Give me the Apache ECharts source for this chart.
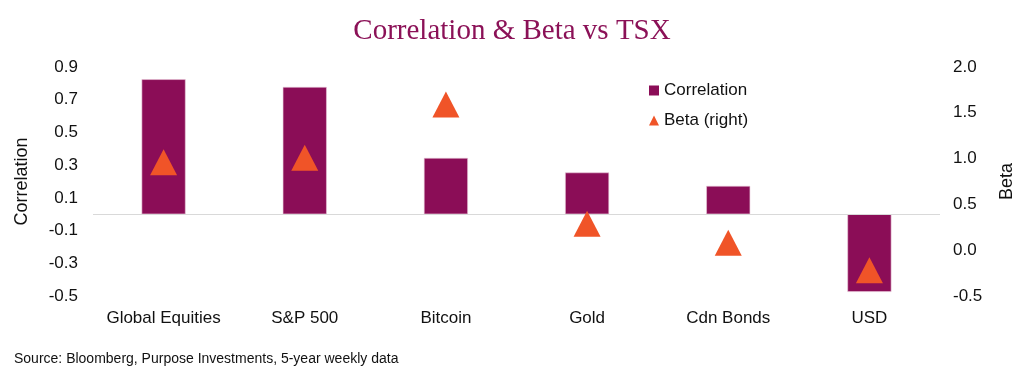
<!DOCTYPE html>
<html>
<head>
<meta charset="utf-8">
<script src="https://cdn.jsdelivr.net/npm/echarts@6/dist/echarts.min.js"></script>
<style>html,body{margin:0;padding:0;background:#fff}#c{width:1024px;height:384px}</style>
</head>
<body>
<div id="c"></div>
<script>
const categories = ['Global Equities', 'S&P 500', 'Bitcoin', 'Gold', 'Cdn Bonds', 'USD'];
const correlation = [0.825, 0.778, 0.344, 0.255, 0.173, -0.475];
const beta = [0.96, 1.01, 1.59, 0.29, 0.08, -0.22];
const leftTicks = [-0.5, -0.3, -0.1, 0.1, 0.3, 0.5, 0.7, 0.9];
const rightTicks = [-0.5, 0.0, 0.5, 1.0, 1.5, 2.0];

const chart = echarts.init(document.getElementById('c'), null, {renderer: 'canvas'});
const font = 'Liberation Sans, Arial, sans-serif';
chart.setOption({
  animation: false,
  title: [{
    text: 'Correlation & Beta vs TSX',
    left: 'center', top: 12,
    textStyle: {fontFamily: 'Liberation Serif, serif', fontWeight: 'normal', fontSize: 29, color: '#8B1157'}
  }, {
    text: 'Source: Bloomberg, Purpose Investments, 5-year weekly data',
    left: 9, top: 347,
    textStyle: {fontFamily: font, fontWeight: 'normal', fontSize: 14, color: '#111'}
  }],
  legend: {
    orient: 'vertical', left: 644, top: 77,
    itemWidth: 10, itemHeight: 10, itemGap: 13,
    itemStyle: {borderWidth: 0},
    textStyle: {fontFamily: font, fontSize: 17, color: '#111'},
    data: [{name: 'Correlation', icon: 'rect'}, {name: 'Beta (right)', icon: 'triangle'}]
  },
  grid: {left: 93, right: 82, top: 67, bottom: 88},
  xAxis: {
    type: 'category', data: categories,
    axisLine: {show: false}, axisTick: {show: false},
    axisLabel: {interval: 0, fontFamily: font, fontSize: 17, color: '#111', margin: 14}
  },
  yAxis: [{
    type: 'value', min: -0.5, max: 0.9,
    name: 'Correlation', nameLocation: 'middle', nameGap: 62, nameRotate: 90,
    nameTextStyle: {fontFamily: font, fontSize: 18, color: '#111'},
    axisLine: {show: false}, axisTick: {show: false}, splitLine: {show: false},
    axisLabel: {customValues: leftTicks, formatter: v => v.toFixed(1), fontFamily: font, fontSize: 17, color: '#111', margin: 15}
  }, {
    type: 'value', min: -0.5, max: 2.0, interval: 0.5,
    name: 'Beta', nameLocation: 'middle', nameGap: 58, nameRotate: 90,
    nameTextStyle: {fontFamily: font, fontSize: 18, color: '#111'},
    axisLine: {show: false}, axisTick: {show: false}, splitLine: {show: false},
    axisLabel: {customValues: rightTicks, formatter: v => v.toFixed(1), fontFamily: font, fontSize: 17, color: '#111', margin: 13}
  }],
  series: [{
    name: 'Correlation', type: 'bar', yAxisIndex: 0, data: correlation,
    barWidth: 44,
    itemStyle: {color: '#8B0D57', borderColor: '#e9c9da', borderWidth: 0.6},
    markLine: {
      silent: true, symbol: 'none', label: {show: false},
      lineStyle: {color: '#d9d9d9', width: 1.2, type: 'solid'},
      data: [{yAxis: 0}]
    }
  }, {
    name: 'Beta (right)', type: 'scatter', yAxisIndex: 1, data: beta,
    symbol: 'triangle', symbolSize: [27, 26],
    itemStyle: {color: '#F05428', opacity: 1}, z: 5
  }]
});
</script>
</body>
</html>
